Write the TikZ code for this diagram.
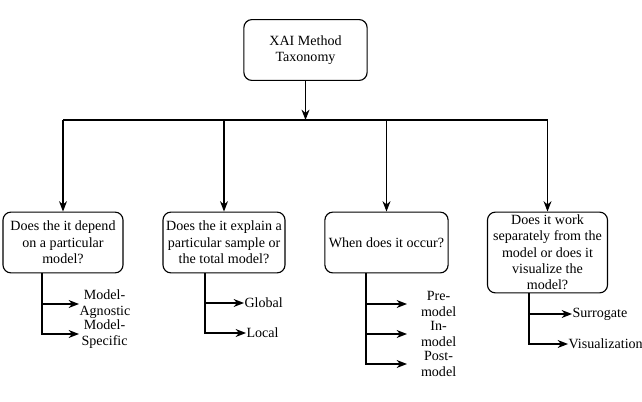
\documentclass[tikz,border=0pt]{standalone}
\usepackage{fontspec}
\setmainfont{Liberation Serif}
\usetikzlibrary{arrows.meta}

\begin{document}
\begin{tikzpicture}
    [x=0.025cm,y=-0.025cm,line width=0.8pt,
     every node/.style={font=\fontsize{10}{11.6}\selectfont},
     qbox/.style={draw,rounded corners=0.2cm,align=center,minimum width=3cm,minimum height=1.52cm,inner sep=1pt},
     leaf/.style={anchor=west,align=center,inner sep=0pt},
     arr/.style={-{Stealth[length=0.26cm,width=0.2cm]}}]
      \useasboundingbox (0,0) rectangle (642,401);

      \node (root)[qbox,minimum width=3.08cm] at (305.5,50)  {XAI Method\\Taxonomy};
      \node (q1)[qbox]                        at (63,242.5)  {Does the it depend\\on a particular\\model?};
      \node (q2)[qbox,minimum width=3.05cm]   at (224,242.5) {Does the it explain a\\particular sample or\\the total model?};
      \node (q3)[qbox,minimum width=3.08cm]   at (386.5,242.5) {When does it occur?};
      \node (q4)[qbox,minimum height=2.02cm,inner sep=0pt] at (547.5,252.5) {Does it work\\separately from the\\model or does it\\visualize the\\model?};

      \node (agn)[leaf,text width=1.25cm] at (79,304)  {Model-\\Agnostic};
      \node (spe)[leaf,text width=1.25cm] at (79,334)  {Model-\\Specific};
      \node (glo)[leaf]                   at (244,303) {Global};
      \node (loc)[leaf]                   at (246,333) {Local};
      \node (pre)[leaf,text width=1.55cm] at (407,304) {Pre-\\model};
      \node (inm)[leaf,text width=1.55cm] at (407,334) {In-\\model};
      \node (pos)[leaf,text width=1.55cm] at (407,364) {Post-\\model};
      \node (sur)[leaf]                   at (572,314) {Surrogate};
      \node (vis)[leaf]                   at (568,344) {Visualization};

      \coordinate (hl)  at (305.5,120);
      \coordinate (hl1) at (63,120);
      \coordinate (hl4) at (548,120);
      \coordinate (s1)  at (42,273);
      \coordinate (s2)  at (205,273);
      \coordinate (s3)  at (366,273);
      \coordinate (s4)  at (529,293);

      \draw[arr] (root) -- (hl);
      \draw (hl1) -- (hl4);
      \foreach \q in {q1,q2,q3,q4}
	\draw[arr] (\q.north |- hl) -- (\q.north);

      \foreach \from/\to in {s1/agn,s1/spe,s2/glo,s2/loc,s3/pre,s3/inm,s3/pos,s4/sur,s4/vis}
	\draw[arr] (\from) |- (\to.west);
    \end{tikzpicture}
\end{document}
